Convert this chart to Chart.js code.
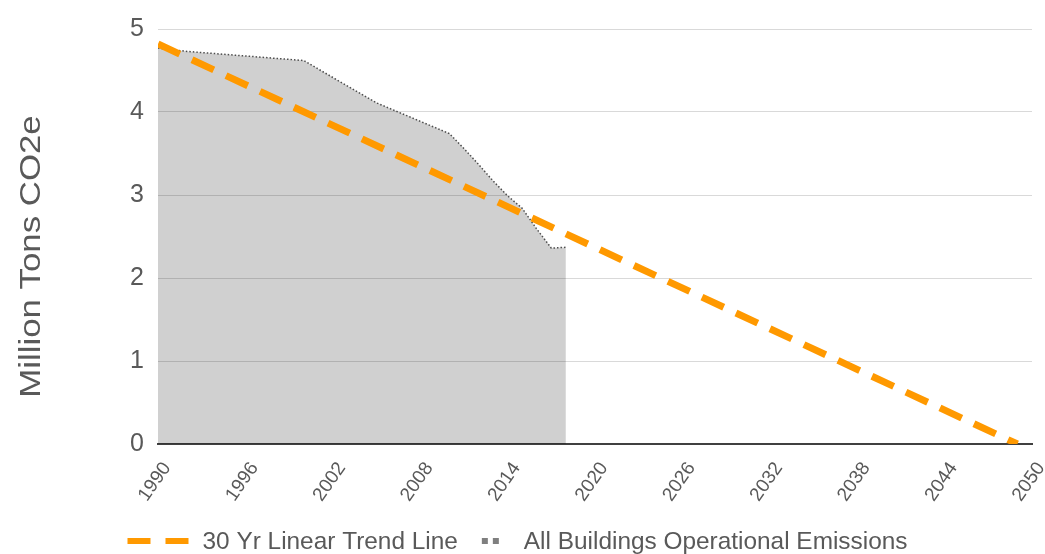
<!DOCTYPE html>
<html lang="en">
<head>
  <meta charset="UTF-8">
  <title>Buildings Operational Emissions</title>
  <style>
    body {
      margin: 0;
      background: #fff;
      font-family: 'Liberation Sans', Arial, sans-serif;
    }
    .wrap {
      width: 1045px;
      height: 554px;
      position: relative;
    }
  </style>
</head>
<body>
  <div class="wrap">
    <canvas id="chart"></canvas>
  </div>

  <script src="https://cdn.jsdelivr.net/npm/chart.js"></script>
  <script>
    // values
    const emissionYears = [1990, 1992, 2000, 2005, 2010, 2011, 2012, 2013, 2014, 2015, 2016, 2017, 2018];
    const emissionValues = [4.77, 4.73, 4.62, 4.11, 3.74, 3.56, 3.37, 3.17, 2.99, 2.84, 2.59, 2.36, 2.37];
    const trendYears = [1990, 2049];
    const trendValues = [4.82, 0];
    const yTicks = [0, 1, 2, 3, 4, 5];
    const seriesNames = ['30 Yr Linear Trend Line', 'All Buildings Operational Emissions'];
    const yTitle = 'Million Tons CO2e';

    const textColor = '#595959';
    const orange = '#ff9900';
    const fontFamily = "'Liberation Sans', Arial, sans-serif";

    const toPoints = (xs, ys) => xs.map((x, i) => ({ x: x, y: ys[i] }));

    // y axis title, a bit stretched along its length like the original
    const yTitlePlugin = {
      id: 'yTitle',
      afterDraw(chart) {
        const ctx = chart.ctx;
        const area = chart.chartArea;
        ctx.save();
        ctx.translate(40, (area.top + area.bottom) / 2 + 20);
        ctx.rotate(-Math.PI / 2);
        ctx.scale(1.2, 1);
        ctx.font = '29px ' + fontFamily;
        ctx.fillStyle = textColor;
        ctx.textAlign = 'center';
        ctx.textBaseline = 'alphabetic';
        ctx.fillText(yTitle, 0, 0);
        ctx.restore();
      }
    };

    // legend drawn under the axis labels
    const legendPlugin = {
      id: 'bottomLegend',
      afterDraw(chart) {
        const ctx = chart.ctx;
        const y = 541;
        const items = [
          { text: seriesNames[0], len: 62, dash: [23, 15], color: orange, gap: 13 },
          { text: seriesNames[1], len: 19, dash: [6, 5], color: '#7f7f7f', gap: 23 }
        ];
        ctx.save();
        ctx.font = '24.4px ' + fontFamily;
        const between = 24;
        let total = 0;
        items.forEach((it, i) => {
          it.w = ctx.measureText(it.text).width;
          total += it.len + it.gap + it.w + (i ? between : 0);
        });
        let x = chart.width / 2 - total / 2 - 5;
        items.forEach((it, i) => {
          if (i) x += between;
          ctx.beginPath();
          ctx.setLineDash(it.dash);
          ctx.lineWidth = 6;
          ctx.strokeStyle = it.color;
          ctx.moveTo(x, y);
          ctx.lineTo(x + it.len, y);
          ctx.stroke();
          ctx.setLineDash([]);
          x += it.len + it.gap;
          ctx.fillStyle = textColor;
          ctx.textBaseline = 'middle';
          ctx.textAlign = 'left';
          ctx.fillText(it.text, x, y + 1);
          x += it.w;
        });
        ctx.restore();
      }
    };

    new Chart(document.getElementById('chart'), {
      type: 'line',
      data: {
        datasets: [
          {
            label: seriesNames[0],
            data: toPoints(trendYears, trendValues),
            borderColor: orange,
            borderWidth: 7,
            borderDash: [24, 13.5],
            borderCapStyle: 'butt',
            pointRadius: 0,
            fill: false,
            tension: 0
          },
          {
            label: seriesNames[1],
            data: toPoints(emissionYears, emissionValues),
            borderColor: '#4d4d4d',
            borderWidth: 1.5,
            borderDash: [1.5, 2],
            backgroundColor: 'rgba(0, 0, 0, 0.185)',
            pointRadius: 0,
            fill: 'origin',
            tension: 0
          }
        ]
      },
      options: {
        responsive: true,
        maintainAspectRatio: false,
        animation: false,
        layout: {
          padding: { left: 0, right: 13, top: 27, bottom: 0 }
        },
        plugins: {
          legend: { display: false },
          tooltip: { enabled: false }
        },
        scales: {
          x: {
            type: 'linear',
            min: 1990,
            max: 2050,
            afterFit(scale) {
              scale.height = 110;
              scale.paddingLeft = 0;
              scale.paddingRight = 0;
            },
            grid: { display: true, drawOnChartArea: false, drawTicks: false },
            border: { display: true, color: '#404040', width: 2 },
            ticks: {
              stepSize: 6,
              autoSkip: false,
              minRotation: 55,
              maxRotation: 55,
              padding: 14,
              labelOffset: 9,
              color: textColor,
              font: { family: fontFamily, size: 19 },
              callback: v => String(v)
            }
          },
          y: {
            min: 0,
            max: 5,
            afterFit(scale) { scale.width = 158; },
            afterBuildTicks(scale) { scale.ticks = yTicks.map(v => ({ value: v })); },
            grid: { color: '#d9d9d9', lineWidth: 1, drawTicks: false },
            border: { display: false },
            ticks: {
              padding: 14,
              color: textColor,
              font: { family: fontFamily, size: 25 }
            }
          }
        }
      },
      plugins: [yTitlePlugin, legendPlugin]
    });
  </script>
</body>
</html>
